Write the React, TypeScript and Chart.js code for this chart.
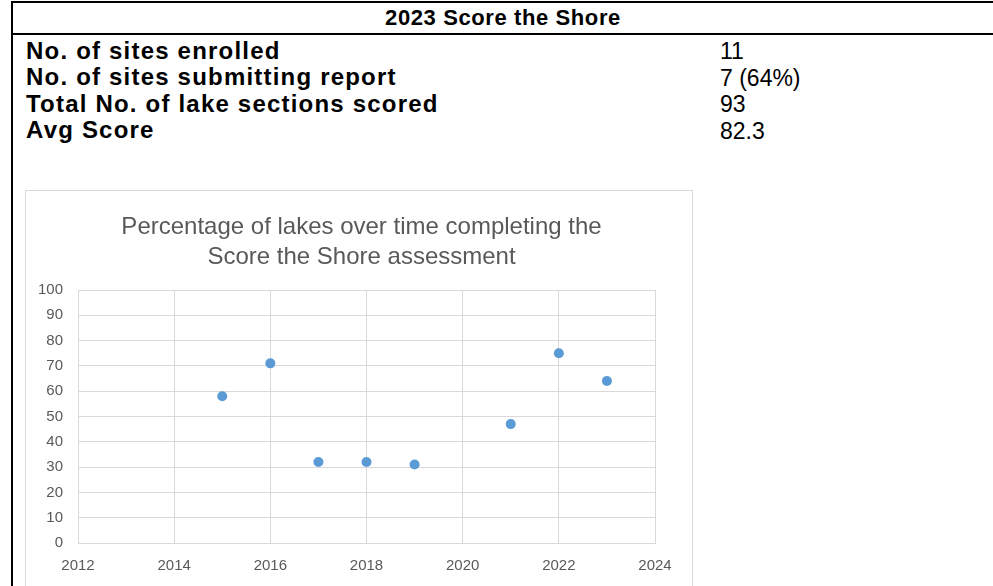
import React, { useEffect, useRef } from "react";
import { Chart, registerables } from "chart.js";

Chart.register(...registerables);

const TABLE_TITLE = "2023 Score the Shore";
const ROW_LABELS = [
  "No. of sites enrolled",
  "No. of sites submitting report",
  "Total No. of lake sections scored",
  "Avg Score",
];
const ROW_VALUES = ["11", "7 (64%)", "93", "82.3"];

const CHART_TITLE = [
  "Percentage of lakes over time completing the",
  "Score the Shore assessment",
];
const YEARS = [2015, 2016, 2017, 2018, 2019, 2021, 2022, 2023];
const PERCENT_COMPLETED = [58, 71, 32, 32, 31, 47, 75, 64];
const X_MIN = 2012;
const X_MAX = 2024;
const X_STEP = 2;
const Y_MIN = 0;
const Y_MAX = 100;
const Y_STEP = 10;

const FONT = "'Liberation Sans', Arial, sans-serif";
const TEXT_GRAY = "#595959";
const GRID_GRAY = "#d9d9d9";

function ScatterChart() {
  const ref = useRef<HTMLCanvasElement | null>(null);
  useEffect(() => {
    if (!ref.current) return;
    const chart = new Chart(ref.current, {
      type: "scatter",
      data: {
        datasets: [
          {
            data: YEARS.map((x, i) => ({ x, y: PERCENT_COMPLETED[i] })),
            backgroundColor: "#5B9BD5",
            borderColor: "#5B9BD5",
            borderWidth: 0,
            pointRadius: 5,
            pointHoverRadius: 5,
            yAxisID: "y",
          },
        ],
      },
      options: {
        animation: false,
        responsive: false,
        devicePixelRatio: 1,
        layout: { padding: { left: 6, right: 0, top: 0, bottom: 0 } },
        plugins: {
          legend: { display: false },
          tooltip: { enabled: false },
          title: {
            display: true,
            text: CHART_TITLE,
            color: TEXT_GRAY,
            font: { family: FONT, size: 24, weight: "normal", lineHeight: "30px" },
            padding: { top: 21, bottom: 18 },
          },
        },
        scales: {
          x: {
            type: "linear",
            min: X_MIN,
            max: X_MAX,
            afterFit: (s: any) => {
              s.height = 43;
            },
            ticks: {
              stepSize: X_STEP,
              color: TEXT_GRAY,
              font: { family: FONT, size: 15 },
              padding: 14,
              maxRotation: 0,
              callback: (v: any) => String(v),
            },
            grid: { color: GRID_GRAY, lineWidth: 1, drawTicks: false },
            border: { color: GRID_GRAY, width: 1 },
          },
          y: {
            type: "linear",
            position: "left",
            min: Y_MIN,
            max: Y_MAX,
            afterFit: (s: any) => {
              s.width = 46;
            },
            ticks: {
              stepSize: Y_STEP,
              color: TEXT_GRAY,
              font: { family: FONT, size: 15 },
              padding: 15,
            },
            grid: { color: GRID_GRAY, lineWidth: 1, drawTicks: false },
            border: { color: GRID_GRAY, width: 1 },
          },
          spacer: {
            type: "linear",
            position: "right",
            min: Y_MIN,
            max: Y_MAX,
            afterFit: (s: any) => {
              s.width = 36;
            },
            ticks: { display: false },
            grid: { display: false, drawTicks: false },
            border: { display: false },
          },
        },
      },
    });
    return () => chart.destroy();
  }, []);
  return (
    <canvas
      ref={ref}
      width={665}
      height={395}
      style={{ position: "absolute", left: 26, top: 191, width: 665, height: 395 }}
    />
  );
}

export default function App() {
  const labelStyle: React.CSSProperties = {
    position: "absolute",
    left: 26,
    fontFamily: FONT,
    fontWeight: "bold",
    fontSize: 24,
    lineHeight: "26px",
    letterSpacing: "1.2px",
    color: "#000",
    whiteSpace: "nowrap",
  };
  const valueStyle: React.CSSProperties = {
    position: "absolute",
    left: 720,
    fontFamily: FONT,
    fontSize: 23,
    lineHeight: "26px",
    color: "#000",
    whiteSpace: "nowrap",
  };
  const baselines = [59, 85.5, 112, 138.5];
  return (
    <div
      style={{
        position: "absolute",
        left: 0,
        top: 0,
        width: 993,
        height: 586,
        overflow: "hidden",
        background: "#fff",
      }}
    >
      <div style={{ position: "absolute", left: 11, top: 1, width: 990, height: 2, background: "#000" }} />
      <div style={{ position: "absolute", left: 11, top: 33, width: 990, height: 2, background: "#000" }} />
      <div style={{ position: "absolute", left: 11, top: 1, width: 2, height: 600, background: "#000" }} />
      <div
        style={{
          position: "absolute",
          left: 13,
          top: 5,
          width: 980,
          textAlign: "center",
          fontFamily: FONT,
          fontWeight: "bold",
          fontSize: 22,
          lineHeight: "26px",
          letterSpacing: "0.6px",
          whiteSpace: "nowrap",
        }}
      >
        {TABLE_TITLE}
      </div>
      {ROW_LABELS.map((t, i) => (
        <div key={"l" + i} style={{ ...labelStyle, top: baselines[i] - 21.5 }}>
          {t}
        </div>
      ))}
      {ROW_VALUES.map((t, i) => (
        <div key={"v" + i} style={{ ...valueStyle, top: baselines[i] - 21 }}>
          {t}
        </div>
      ))}
      <div
        style={{
          position: "absolute",
          left: 25,
          top: 190,
          width: 668,
          height: 420,
          border: "1px solid " + GRID_GRAY,
          boxSizing: "border-box",
        }}
      />
      <ScatterChart />
    </div>
  );
}
